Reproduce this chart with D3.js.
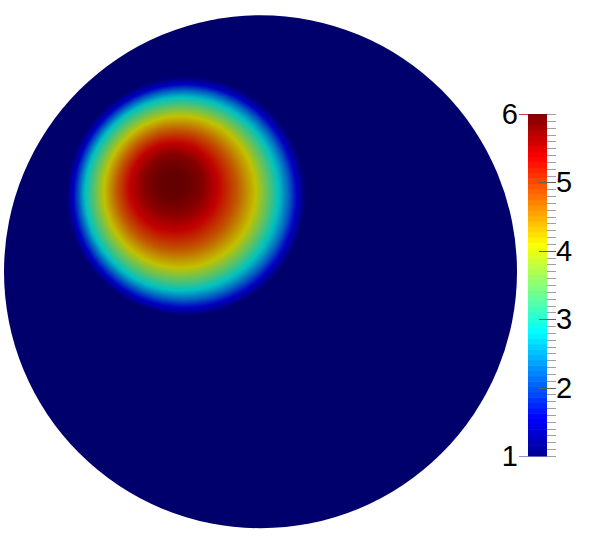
<!DOCTYPE html>
<html>
<head>
<meta charset="utf-8">
<script src="https://cdn.jsdelivr.net/npm/d3@7"></script>
<style>
  body { margin: 0; background: #fff; }
  svg { display: block; }
</style>
</head>
<body>
<svg width="598" height="545"></svg>
<script>
// colour map (ParaView style jet), stops as fraction of the range
var jetStops = [0, 0.111, 0.365, 0.492, 0.619, 0.873, 1];
var jetColors = ["#000090", "#0000ff", "#00ffff", "#80ff80", "#ffff00", "#ff0000", "#800000"];

// field range and colour bar labels
var valueRange = [1, 6];
var majorTicks = [2, 3, 4, 5];
var endTicks = [1, 6];

// radial profile of the blob:
// distance from the peak, field value, and where that ring is centred
var profileRadius = [0, 15, 30, 44, 60, 76, 86, 97, 105, 112, 120];
var profileValue  = [6.0, 5.95, 5.75, 5.37, 4.8, 4.1, 3.5, 2.83, 2.2, 1.56, 1.0];
var ringCenterX   = [173, 173, 174, 174, 177, 180, 181, 182, 184, 185, 186];
var ringCenterY   = [183, 183, 184, 187, 190, 192, 193, 194, 195, 196, 196];

var svg = d3.select("svg");

// value -> colour
var color = d3.scaleLinear()
    .domain(jetStops.map(function (s) { return valueRange[0] + s * (valueRange[1] - valueRange[0]); }))
    .range(jetColors)
    .interpolate(d3.interpolateRgb);

// surface is lit, so it looks a bit darker than the bar
function shade(v) {
    return d3.rgb(color(v)).darker(0.77).formatHex();
}

// disk
var disk = {cx: 260.5, cy: 271.7, r: 256.5};

svg.append("circle")
    .attr("cx", disk.cx)
    .attr("cy", disk.cy)
    .attr("r", disk.r)
    .attr("fill", shade(valueRange[0]));

// blob, drawn as nested rings from outside in
var rVal = d3.scaleLinear().domain(profileRadius).range(profileValue).clamp(true);
var rCx = d3.scaleLinear().domain(profileRadius).range(ringCenterX).clamp(true);
var rCy = d3.scaleLinear().domain(profileRadius).range(ringCenterY).clamp(true);

var rings = d3.range(d3.max(profileRadius), 0, -0.5);

svg.append("g")
    .selectAll("circle")
    .data(rings)
    .enter()
    .append("circle")
    .attr("cx", function (d) { return rCx(d); })
    .attr("cy", function (d) { return rCy(d); })
    .attr("r", function (d) { return d; })
    .attr("fill", function (d) { return shade(rVal(d)); });

// colour bar
var barX = 528, barW = 19;
var y = d3.scaleLinear().domain(valueRange).range([456, 114]);

var nBands = 64;
var bands = d3.range(nBands);
var bar = svg.append("g");
bar.selectAll("rect")
    .data(bands)
    .enter()
    .append("rect")
    .attr("x", barX)
    .attr("width", barW)
    .attr("y", function (i) { return y(valueRange[0] + (i + 1) * (valueRange[1] - valueRange[0]) / nBands); })
    .attr("height", (y(valueRange[0]) - y(valueRange[1])) / nBands + 0.6)
    .attr("fill", function (i) { return color(valueRange[0] + (i + 0.5) * (valueRange[1] - valueRange[0]) / nBands); });

// minor ticks every 0.1
var minor = y.ticks(50);
bar.selectAll("line.minor")
    .data(minor)
    .enter()
    .append("line")
    .attr("class", "minor")
    .attr("x1", barX + barW)
    .attr("x2", barX + barW + 9)
    .attr("y1", function (d) { return Math.round(y(d)) + 0.5; })
    .attr("y2", function (d) { return Math.round(y(d)) + 0.5; })
    .attr("stroke", "#a0a0a0")
    .attr("stroke-width", 1);

// major ticks
bar.selectAll("line.major")
    .data(majorTicks)
    .enter()
    .append("line")
    .attr("class", "major")
    .attr("x1", barX + 11)
    .attr("x2", barX + barW + 9)
    .attr("y1", function (d) { return Math.round(y(d)) + 0.5; })
    .attr("y2", function (d) { return Math.round(y(d)) + 0.5; })
    .attr("stroke", "#606060")
    .attr("stroke-width", 1);

// end ticks on the left, coloured
bar.selectAll("line.end")
    .data(endTicks)
    .enter()
    .append("line")
    .attr("class", "end")
    .attr("x1", barX - 9)
    .attr("x2", barX)
    .attr("y1", function (d) { return Math.round(y(d)) + 0.5; })
    .attr("y2", function (d) { return Math.round(y(d)) + 0.5; })
    .attr("stroke", function (d) { return d === valueRange[0] ? "#9090e0" : "#d04040"; })
    .attr("stroke-width", 1);

// labels
bar.selectAll("text.major")
    .data(majorTicks)
    .enter()
    .append("text")
    .attr("class", "major")
    .attr("x", barX + barW + 9)
    .attr("y", function (d) { return y(d) + 10; })
    .attr("font-family", "Liberation Sans, Arial, sans-serif")
    .attr("font-size", "29px")
    .attr("fill", "#000")
    .text(function (d) { return d; });

bar.selectAll("text.end")
    .data(endTicks)
    .enter()
    .append("text")
    .attr("class", "end")
    .attr("x", barX - 10)
    .attr("y", function (d) { return y(d) + 10; })
    .attr("text-anchor", "end")
    .attr("font-family", "Liberation Sans, Arial, sans-serif")
    .attr("font-size", "29px")
    .attr("fill", "#000")
    .text(function (d) { return d; });
</script>
</body>
</html>
